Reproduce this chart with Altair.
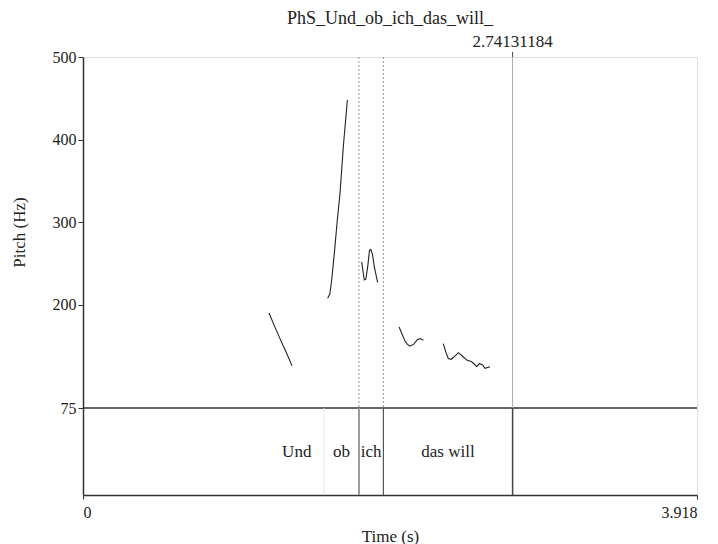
import altair as alt
import pandas as pd

# ---- data ----
seg1_t = [1.187, 1.220, 1.257, 1.300, 1.334]
seg1_p = [190, 175, 159, 141, 126]
seg2_t = [1.561, 1.575, 1.587, 1.605, 1.623, 1.640, 1.661, 1.676, 1.687]
seg2_p = [208, 213, 230, 265, 303, 335, 391, 424, 448]
seg3_t = [1.778, 1.787, 1.795, 1.805, 1.818, 1.828, 1.836, 1.846, 1.860, 1.880]
seg3_p = [252, 240, 230, 231, 248, 266, 267, 262, 245, 227]
seg4_t = [2.017, 2.035, 2.055, 2.066, 2.085, 2.110, 2.135, 2.151, 2.172]
seg4_p = [173, 165, 156, 153, 150, 152, 158, 159, 157]
seg5_t = [2.299, 2.315, 2.331, 2.350, 2.375, 2.395, 2.420, 2.449, 2.481, 2.513, 2.529, 2.550, 2.565, 2.597]
seg5_p = [153, 143, 135, 134, 138, 142, 138, 133, 131, 125, 129, 127, 123, 125]

tier_labels = ["Und", "ob", "ich", "das will"]
tier_start = [1.190, 1.538, 1.761, 1.917]
tier_end = [1.538, 1.761, 1.917, 2.741]

boundary_t = [1.538, 1.761, 1.917, 2.74131184]
boundary_col = ["#e4e4e4", "#9a9a9a", "#555555", "#444444"]
boundary_w = [1, 2, 1.2, 1.5]

dotted_t = [1.761, 1.917]
cursor_t = [2.74131184]
cursor_label = ["2.74131184"]

y_ticks = [75, 200, 300, 400, 500]
x_ticks = [0, 3.918]
T_MAX = 3.918
F_MIN, F_MAX = 75, 500
Y_LOW = -30.34  # bottom of the text-grid tier in pitch-scale units

FONT = "Liberation Serif"
FS = 17
TICK_FS = 16

rows = []
for i, (ts, ps) in enumerate([(seg1_t, seg1_p), (seg2_t, seg2_p), (seg3_t, seg3_p),
                              (seg4_t, seg4_p), (seg5_t, seg5_p)]):
    for t, p in zip(ts, ps):
        rows.append({"seg": i, "t": t, "p": p})
pitch = pd.DataFrame(rows)

tier = pd.DataFrame({"label": tier_labels,
                     "mid": [(a + b) / 2 for a, b in zip(tier_start, tier_end)]})
bounds = pd.DataFrame({"t": boundary_t, "c": boundary_col, "w": boundary_w})
dots = pd.DataFrame({"t": dotted_t})
cur = pd.DataFrame({"t": cursor_t, "lab": cursor_label})

xs = alt.Scale(domain=[0, T_MAX], nice=False, zero=False)
ys = alt.Scale(domain=[Y_LOW, F_MAX], nice=False, zero=False)

base_x = alt.X("t:Q", scale=xs,
               axis=alt.Axis(values=x_ticks, labelExpr="datum.value", title="Time (s)",
                             grid=False, tickSize=4, labelPadding=5, titlePadding=8,
                             labelFont=FONT, labelFontSize=TICK_FS, titleFont=FONT,
                             titleFontSize=FS, titleFontWeight="normal",
                             labelColor="#222", titleColor="#222",
                             domainColor="#333", tickColor="#333", domainWidth=1.5))
base_y = alt.Y("p:Q", scale=ys,
               axis=alt.Axis(values=y_ticks, title="Pitch (Hz)", grid=False, tickSize=5,
                             labelPadding=2, labelFont=FONT, labelFontSize=TICK_FS,
                             titleFont=FONT, titleFontSize=FS, titleFontWeight="normal",
                             titleX=-55, titleY=175, titleAngle=-90,
                             labelColor="#222", titleColor="#222",
                             domainColor="#333", tickColor="#333", domainWidth=1.5))

lines = alt.Chart(pitch).mark_line(color="#222", strokeWidth=1.1).encode(
    x=base_x, y=base_y, detail="seg:N")

line75 = alt.Chart(pd.DataFrame({"p": [F_MIN]})).mark_rule(color="#333", strokeWidth=1.5).encode(
    y=alt.Y("p:Q", scale=ys))

dotted = alt.Chart(dots).mark_rule(color="#999", strokeDash=[2, 2], strokeWidth=1).encode(
    x=alt.X("t:Q", scale=xs), y=alt.datum(F_MAX), y2=alt.datum(F_MIN))

cursor = alt.Chart(cur).mark_rule(color="#aaa", strokeWidth=1).encode(
    x=alt.X("t:Q", scale=xs), y=alt.datum(F_MAX), y2=alt.datum(F_MIN))

cursor_tick = alt.Chart(cur).mark_rule(color="#444", strokeWidth=1).encode(
    x=alt.X("t:Q", scale=xs), y=alt.value(-5), y2=alt.value(0))

cursor_text = alt.Chart(cur).mark_text(font=FONT, fontSize=FS, color="#222", baseline="middle").encode(
    x=alt.X("t:Q", scale=xs), y=alt.value(-15), text="lab:N")

bnd = alt.Chart(bounds).mark_rule().encode(
    x=alt.X("t:Q", scale=xs), y=alt.datum(F_MIN), y2=alt.datum(Y_LOW),
    color=alt.Color("c:N", scale=None), strokeWidth=alt.StrokeWidth("w:Q", scale=None))

tier_text = alt.Chart(tier).mark_text(font=FONT, fontSize=FS, color="#222", baseline="middle").encode(
    x=alt.X("mid:Q", scale=xs), y=alt.value(394.5), text="label:N")

chart = alt.layer(lines, line75, dotted, cursor, cursor_tick, cursor_text, bnd, tier_text).properties(
    width=614, height=438,
    autosize=alt.AutoSizeParams(type="none"),
    padding={"left": 83, "top": 57, "right": 21, "bottom": 49},
    title=alt.TitleParams("PhS_Und_ob_ich_das_will_", font=FONT, fontSize=FS + 1,
                          fontWeight="normal", color="#222", anchor="middle",
                          frame="group", offset=5),
).configure_view(stroke="#333", strokeWidth=1.5).configure(background="white")

chart.save("out.html", embed_options={"renderer": "svg", "actions": False})
